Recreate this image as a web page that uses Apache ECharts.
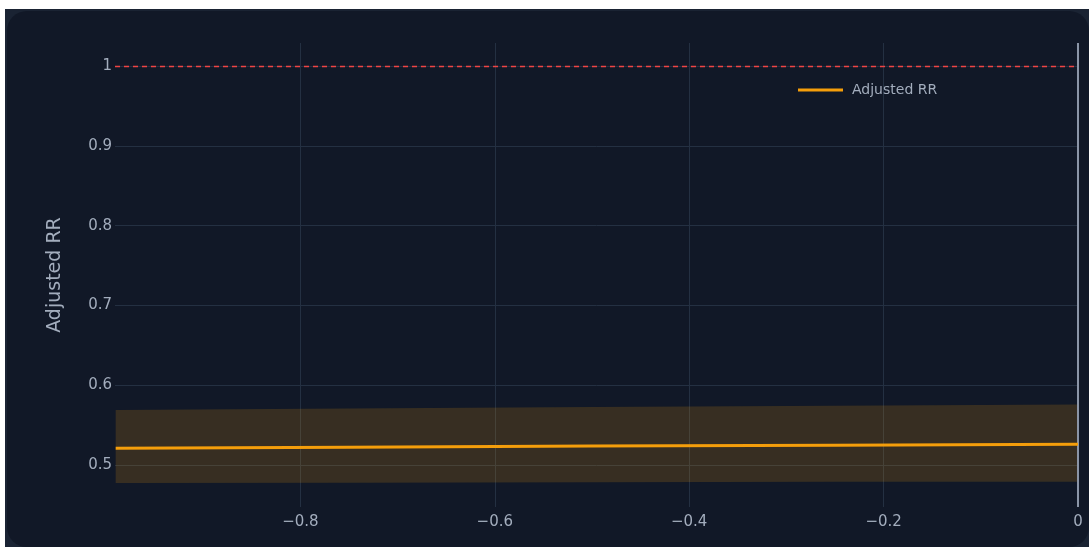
<!DOCTYPE html>
<html>
<head>
<meta charset="utf-8">
<script src="https://cdn.jsdelivr.net/npm/echarts@6/dist/echarts.min.js"></script>
<style>
  html, body { margin: 0; padding: 0; background: #ffffff; width: 1089px; height: 547px; overflow: hidden; }
  #outer { position: absolute; left: 5px; top: 9px; width: 1084px; height: 538px; background: #1a2333; }
  #inner { position: absolute; left: 2px; top: 2px; right: 0; bottom: 0; background: #111827; border-radius: 20px; }
  #chart { position: absolute; left: 0; top: 0; width: 1089px; height: 547px; }
</style>
</head>
<body>
<div id="outer"><div id="inner"></div></div>
<div id="chart"></div>
<script>
// Data
const xValues = [-0.99, -0.75, -0.5, -0.25, 0];
const rrValues = [0.521, 0.5225, 0.5238, 0.525, 0.526];
const ciLower = [0.4775, 0.478, 0.4785, 0.479, 0.479];
const ciUpper = [0.569, 0.5708, 0.5727, 0.5745, 0.576];
const xTicks = [-0.8, -0.6, -0.4, -0.2, 0];
const yTicks = [0.5, 0.6, 0.7, 0.8, 0.9, 1];
const referenceLine = 1;
const seriesName = 'Adjusted RR';

const bandData = xValues.map((x, i) => [x, ciLower[i], ciUpper[i]]);
const lineData = xValues.map((x, i) => [x, rrValues[i]]);

const fmt = v => {
  const s = String(Math.round(v * 10) / 10);
  return s.replace('-', '\u2212');
};

const FONT = 'DejaVu Sans';
const TXT = '#a3adbd';

const chart = echarts.init(document.getElementById('chart'), null, { renderer: 'canvas' });
chart.setOption({
  backgroundColor: 'transparent',
  animation: false,
  grid: { left: 115, right: 11, top: 43, bottom: 40, containLabel: false },
  legend: {
    data: [seriesName],
    left: 793, top: 78,
    icon: 'rect', itemWidth: 45, itemHeight: 3,
    textStyle: { color: TXT, fontSize: 14, fontFamily: FONT, padding: [0, 0, 0, 4] }
  },
  xAxis: {
    type: 'value', min: -0.9907, max: 0,
    axisLine: { show: false }, axisTick: { show: false, customValues: xTicks },
    splitLine: { show: true, lineStyle: { color: '#243042', width: 1 } },
    axisLabel: { customValues: xTicks, formatter: fmt, color: TXT, fontSize: 15, fontFamily: FONT, margin: 8, showMinLabel: true, showMaxLabel: true }
  },
  yAxis: {
    type: 'value', min: 0.4475, max: 1.029,
    name: 'Adjusted RR', nameLocation: 'middle', nameGap: 50,
    nameTextStyle: { color: TXT, fontSize: 19, fontFamily: FONT },
    axisLine: { show: false }, axisTick: { show: false, customValues: yTicks },
    splitLine: { show: true, lineStyle: { color: '#243042', width: 1 } },
    axisLabel: { customValues: yTicks, formatter: fmt, color: TXT, fontSize: 15, fontFamily: FONT, margin: 3 }
  },
  series: [
    {
      name: 'ci', type: 'custom', data: bandData, silent: true, z: 1,
      encode: { x: 0, y: [1, 2] },
      renderItem: function (params, api) {
        if (params.dataIndex !== 0) return null;
        const pts = [];
        for (let i = 0; i < bandData.length; i++) pts.push(api.coord([bandData[i][0], bandData[i][2]]));
        for (let i = bandData.length - 1; i >= 0; i--) pts.push(api.coord([bandData[i][0], bandData[i][1]]));
        return { type: 'polygon', shape: { points: pts }, style: { fill: 'rgba(245,158,11,0.17)' } };
      }
    },
    {
      name: seriesName, type: 'line', data: lineData,
      symbol: 'none', lineStyle: { color: '#f59e0b', width: 3 }, itemStyle: { color: '#f59e0b' },
      z: 5,
      markLine: {
        silent: true, symbol: 'none', label: { show: false },
        data: [
          { yAxis: referenceLine, lineStyle: { color: '#ef4444', type: [5, 4], width: 1.3 } },
          { xAxis: 0, lineStyle: { color: '#8b95a7', type: 'solid', width: 2 } }
        ]
      }
    }
  ]
});
</script>
</body>
</html>
